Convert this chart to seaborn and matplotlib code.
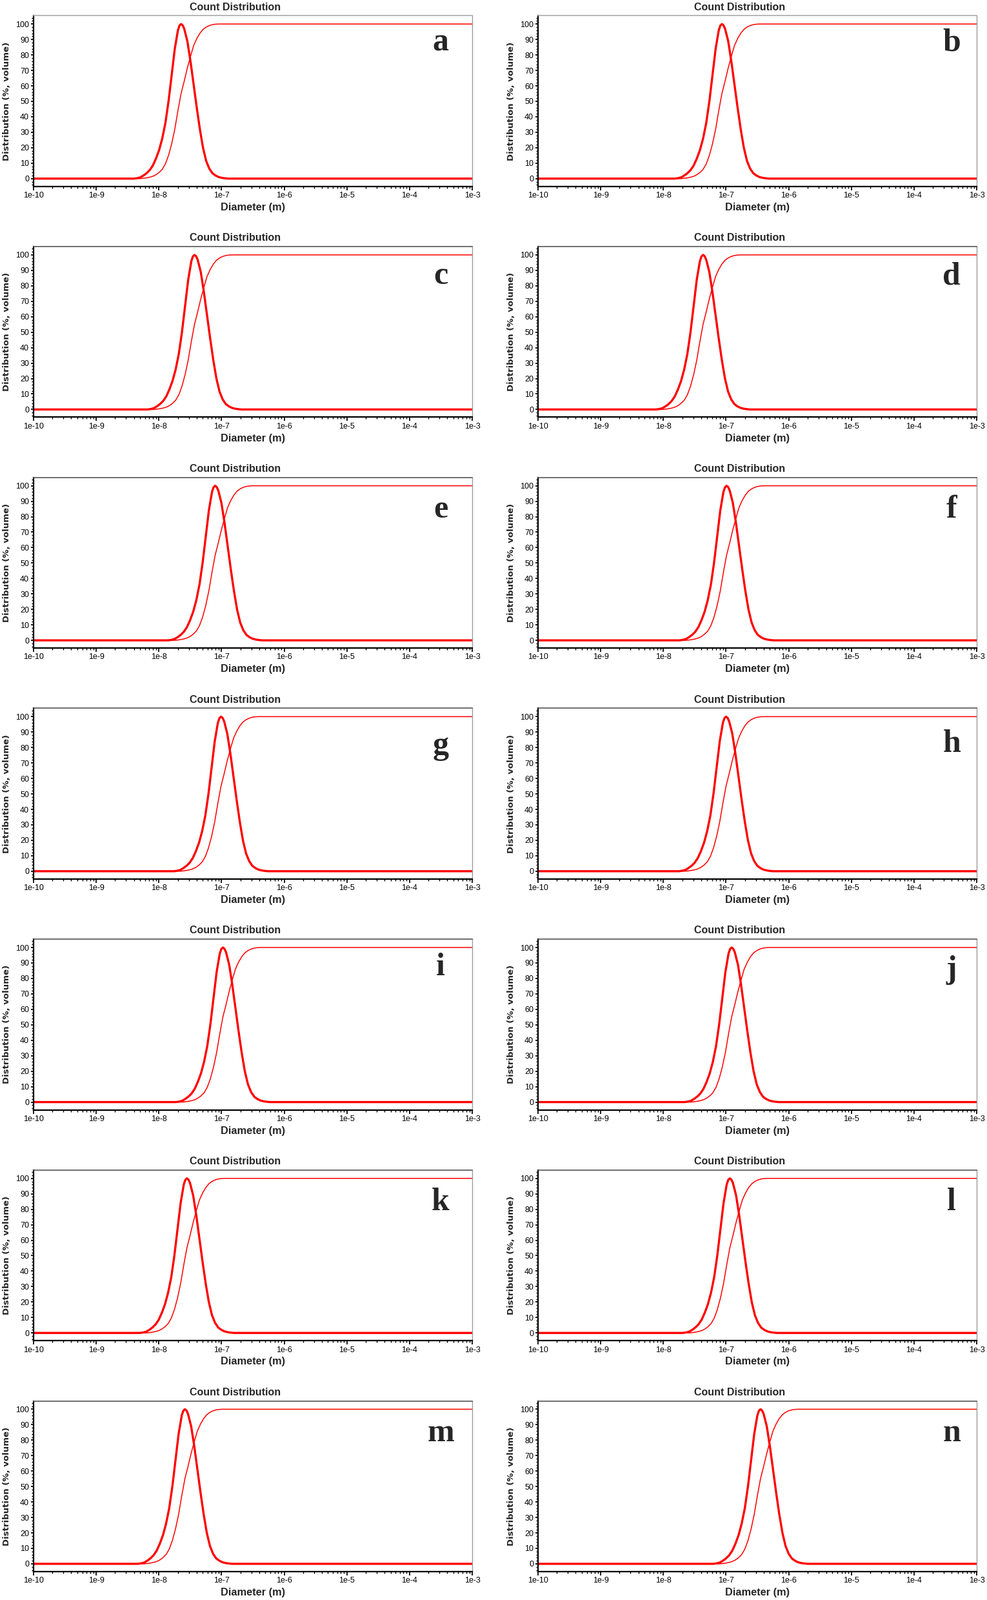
import numpy as np
import pandas as pd
import matplotlib
matplotlib.use("Agg")
import matplotlib.pyplot as plt
import seaborn as sns
from matplotlib.ticker import MultipleLocator, LogLocator, NullFormatter

# ==========================================
# 1. DATA
# ==========================================

panels = list("abcdefghijklmn")

# modal diameter of each sample, nm
peak_nm = [22.6, 86, 37, 43, 79, 102, 98, 100, 105, 123, 28, 115, 26, 355]

# shape of the curves around the peak (offsets in decades of diameter)
offset_dec = [-0.75, -0.70, -0.65, -0.60, -0.55, -0.50, -0.45, -0.40, -0.35, -0.30,
              -0.25, -0.20, -0.15, -0.10, -0.05, -0.025, 0.00, 0.025, 0.05, 0.10,
              0.15, 0.20, 0.25, 0.30, 0.35, 0.40, 0.45, 0.50, 0.55, 0.60,
              0.65, 0.70, 0.75]

count_pct = [0, 0.3, 0.8, 2, 3.5, 5.5, 8.5, 13, 18.5, 26,
             36, 50, 67, 84, 96, 99, 100, 99.2, 97, 89,
             76, 61, 46, 32, 20, 11.5, 6.5, 3.5, 2, 1,
             0.5, 0.2, 0]

cum_pct = [0, 0, 0, 0.2, 0.5, 0.9, 1.5, 2.5, 4, 6,
           9.5, 15, 22.5, 32, 44, 49.5, 55, 59, 63, 71.5,
           79, 86, 90.5, 94, 96.5, 98, 99, 99.6, 99.9, 100,
           100, 100, 100]

x_min, x_max = 1e-10, 1e-3
x_ticks = [1e-10, 1e-9, 1e-8, 1e-7, 1e-6, 1e-5, 1e-4, 1e-3]
x_tick_labels = ["1e-10", "1e-9", "1e-8", "1e-7", "1e-6", "1e-5", "1e-4", "1e-3"]
y_ticks = [0, 10, 20, 30, 40, 50, 60, 70, 80, 90, 100]

# vertical position of the panel letters (axes fraction)
letter_y = [0.84, 0.84, 0.825, 0.825, 0.81, 0.81, 0.78, 0.79,
            0.835, 0.82, 0.81, 0.81, 0.81, 0.81]

# ==========================================
# 2. STYLE
# ==========================================

sns.set_theme(style="white")
plt.rcParams["font.family"] = ["Liberation Sans", "DejaVu Sans"]
plt.rcParams.update({
    "xtick.direction": "out",
    "ytick.direction": "out",
    "xtick.bottom": True,
    "ytick.left": True,
    "xtick.major.size": 4,
    "ytick.major.size": 3,
    "xtick.minor.size": 2,
    "ytick.minor.size": 2,
    "xtick.color": "black",
    "ytick.color": "black",
})

RED = "#ff0000"
sans = ["Liberation Sans", "DejaVu Sans"]

fig = plt.figure(figsize=(15.3, 24.79), dpi=100)
W, H = 1530, 2479

# ==========================================
# 3. PANELS
# ==========================================

for i, letter in enumerate(panels):
    row, col = divmod(i, 2)
    left_px = 52 if col == 0 else 834
    top_px = 24.3 + row * 357.7
    ax = fig.add_axes([left_px / W, 1 - (top_px + 264.4) / H, 680 / W, 264.4 / H])

    d = np.array(peak_nm[i]) * 1e-9 * 10 ** np.array(offset_dec)
    df = pd.DataFrame({
        "diameter": np.concatenate([[x_min], d, [x_max]]),
        "count": np.concatenate([[0], count_pct, [0]]),
        "cum": np.concatenate([[0], cum_pct, [100]]),
    })

    ax.set_xscale("log")
    sns.lineplot(data=df, x="diameter", y="cum", ax=ax, color=RED,
                 linewidth=1.1, estimator=None, sort=False)
    sns.lineplot(data=df, x="diameter", y="count", ax=ax, color=RED,
                 linewidth=2.4, estimator=None, sort=False)

    ax.set_xlim(x_min, x_max)
    ax.set_ylim(-5, 105.4)

    ax.set_xticks(x_ticks)
    ax.set_xticklabels(x_tick_labels, fontsize=9, family=sans)
    ax.xaxis.set_minor_locator(LogLocator(base=10, subs=np.arange(2, 10), numticks=20))
    ax.xaxis.set_minor_formatter(NullFormatter())
    ax.set_yticks(y_ticks)
    ax.set_yticklabels([str(v) for v in y_ticks], fontsize=9, family=sans)
    ax.yaxis.set_minor_locator(MultipleLocator(2))
    ax.tick_params(axis="both", which="major", pad=2)

    ax.set_xlabel("Diameter (m)", fontsize=11.8, fontweight="bold", family=sans)
    ax.xaxis.set_label_coords(0.5, -0.095)
    ax.set_ylabel("Distribution (%, volume)", fontsize=9.5, fontweight="bold",
                  family=["DejaVu Sans"])
    ax.yaxis.set_label_coords(-0.0515, 0.5)

    ax.text(0.46, 1.05, "Count Distribution", transform=ax.transAxes,
            ha="center", va="center", fontsize=11.5, fontweight="bold", family=sans)

    ax.text(0.928 if col == 0 else 0.943, letter_y[i], letter, transform=ax.transAxes,
            ha="center", va="center", fontsize=36, fontweight="bold",
            family=["Liberation Serif", "DejaVu Serif"])

    for side in ["left", "bottom"]:
        ax.spines[side].set_color("black")
        ax.spines[side].set_linewidth(1.6)
    ax.spines["top"].set_color("#aaaaaa" if row == 0 else "#555555")
    ax.spines["top"].set_linewidth(1.2)
    ax.spines["right"].set_color("#999999")
    ax.spines["right"].set_linewidth(1.0)

fig.savefig("out.png", dpi=100, facecolor="white")
